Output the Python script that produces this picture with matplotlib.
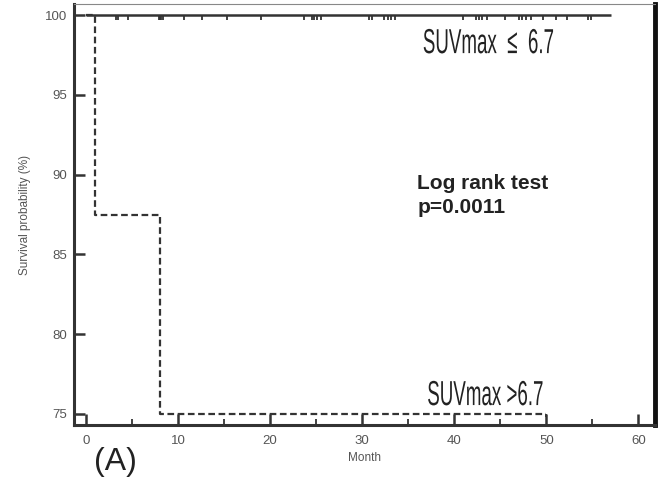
import numpy as np
import matplotlib
matplotlib.use("Agg")
import matplotlib.pyplot as plt
from matplotlib.patheffects import AbstractPathEffect
from matplotlib.transforms import Affine2D

# low SUVmax group: flat at 100%, censored times (months)
low_end = 57.0
low_censor = [3.26, 3.53, 4.6, 7.88, 8.04, 8.2, 8.34, 10.7, 12.6, 15.3, 19.0,
              23.7, 24.5, 24.8, 25.1, 25.5, 30.7, 31.1, 32.4, 32.75, 33.15, 33.6,
              41.0, 42.4, 42.7, 43.0, 43.5, 45.5, 47.0, 47.4, 47.8, 48.3, 49.6,
              51.0, 52.2, 54.5, 54.8]

# high SUVmax group: step curve
high_t = [0, 1, 8, 50]
high_s = [100, 87.5, 75, 75]
high_censor = [50]

xticks = [0, 10, 20, 30, 40, 50, 60]
yticks = [75, 80, 85, 90, 95, 100]


class Squeeze(AbstractPathEffect):
    # narrow the glyphs horizontally around the text anchor
    def __init__(self, sx, x0):
        super().__init__()
        self.sx = sx
        self.x0 = x0

    def draw_path(self, renderer, gc, tpath, affine, rgbFace=None):
        aff = affine + Affine2D().translate(-self.x0, 0).scale(self.sx, 1).translate(self.x0, 0)
        renderer.draw_path(gc, tpath, aff, rgbFace)


plt.rcParams['font.family'] = ['Liberation Sans', 'DejaVu Sans']

fig = plt.figure(figsize=(6.59, 4.79), dpi=100)
ax = fig.add_axes([74/659, 1-425/479, (655-74)/659, (425-4)/479])

dark = '#333333'
ax.plot([0, low_end], [100, 100], color=dark, lw=1.8, solid_capstyle='butt')
ax.vlines(low_censor, 99.68, 100, color=dark, lw=1.3)
ax.step(high_t, high_s, where='post', color=dark, lw=1.6,
        linestyle=(0, (3, 1.6)))
ax.vlines(high_censor, 74.8, 75, color=dark, lw=1.3)

ax.set_xlim(-1.3, 61.8)
ax.set_ylim(74.3, 100.7)
ax.set_xticks(xticks)
ax.set_xticks(np.arange(5, 61, 10), minor=True)
ax.set_yticks(yticks)

ax.tick_params(axis='both', which='major', direction='in', length=8, width=1.8,
               color=dark, labelcolor='#555555', labelsize=9.5)
ax.tick_params(axis='x', which='major', pad=7)
ax.tick_params(axis='y', which='major', pad=5)
ax.tick_params(axis='x', which='minor', direction='in', length=4, width=1.3, color=dark)

for s in ['left', 'bottom']:
    ax.spines[s].set_linewidth(2.2)
    ax.spines[s].set_color(dark)
ax.spines['right'].set_linewidth(3.5)
ax.spines['right'].set_color('#111111')
ax.spines['top'].set_linewidth(0.8)
ax.spines['top'].set_color('#888888')

ax.set_xlabel('Month', fontsize=8.5, color='#555555', labelpad=4)
ax.set_ylabel('Survival probability (%)', fontsize=8.5, color='#555555', labelpad=10)

# group labels, centred and squeezed to look like a condensed face
for x, y, s in [(43.7, 97.62, 'SUVmax  \u2264  6.7'), (43.37, 75.55, 'SUVmax >6.7')]:
    x0 = ax.transData.transform((x, y))[0]
    ax.text(x, y, s, fontsize=25, color='#222222', ha='center', va='baseline',
            path_effects=[Squeeze(0.54, x0)])

ax.text(36.0, 89.1, 'Log rank test', fontsize=15, fontweight='bold',
        color='#222222', ha='left', va='baseline')
ax.text(36.0, 87.6, 'p=0.0011', fontsize=15, fontweight='bold',
        color='#222222', ha='left', va='baseline')

fig.text(115/659, 1-470/479, '(A)', fontsize=23, color='#222222',
         ha='center', va='baseline')

fig.savefig('out.png', dpi=100)
